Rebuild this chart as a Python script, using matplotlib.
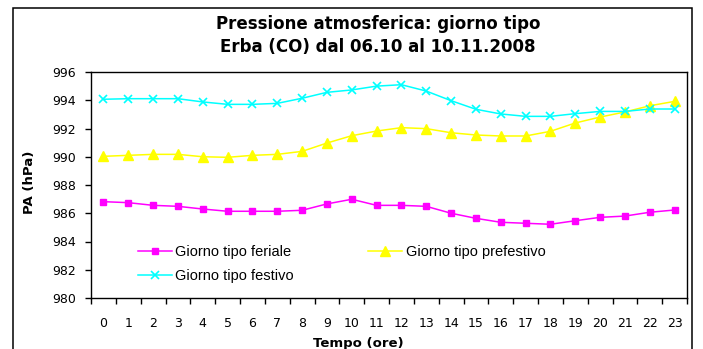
import matplotlib
matplotlib.use("Agg")
import matplotlib.pyplot as plt
from matplotlib.patches import Rectangle

hours = list(range(24))
feriale = [986.82, 986.75, 986.56, 986.49, 986.30, 986.14, 986.14, 986.14, 986.21, 986.66,
           986.99, 986.56, 986.56, 986.49, 986.00, 985.64, 985.36, 985.29, 985.22, 985.47,
           985.71, 985.80, 986.07, 986.23]
prefestivo = [990.03, 990.10, 990.17, 990.17, 990.00, 989.96, 990.10, 990.17, 990.38, 990.97,
              991.49, 991.82, 992.06, 991.99, 991.70, 991.54, 991.47, 991.47, 991.80, 992.39,
              992.81, 993.17, 993.61, 993.92]
festivo = [994.07, 994.11, 994.11, 994.11, 993.88, 993.71, 993.71, 993.78, 994.14, 994.56,
           994.73, 995.00, 995.10, 994.65, 993.97, 993.36, 993.03, 992.86, 992.86, 993.05,
           993.21, 993.21, 993.38, 993.38]
yticks = [980, 982, 984, 986, 988, 990, 992, 994, 996]

W, H = 703, 349
fig = plt.figure(figsize=(W / 100, H / 100), dpi=100)
fig.patch.set_facecolor("white")

# outer chart border
fig.patches.append(Rectangle((13 / W, -0.05), (692 - 13) / W, 1.05 - 8 / H,
                             transform=fig.transFigure, fill=False,
                             edgecolor="black", lw=1.1))

ax = fig.add_axes([91 / W, 1 - 298 / H, (687 - 91) / W, (298 - 72) / H])
l1, = ax.plot(hours, feriale, color="#FF00FF", marker="s", markersize=5, lw=1.1,
              label="Giorno tipo feriale")
l2, = ax.plot(hours, prefestivo, color="#FFFF00", marker="^", markersize=6.5, lw=1.1,
              label="Giorno tipo prefestivo")
l3, = ax.plot(hours, festivo, color="#00FFFF", marker="x", markersize=6, mew=1.2, lw=1.1,
              label="Giorno tipo festivo")

ax.set_xlim(-0.5, 23.5)
ax.set_ylim(980, 996)
ax.set_yticks(yticks)
ax.set_yticklabels([str(v) for v in yticks], fontsize=9, family="DejaVu Sans")
ax.set_xticks(hours)
ax.set_xticklabels([str(h) for h in hours], fontsize=9, family="DejaVu Sans")
ax.set_xticks([h - 0.5 for h in hours] + [23.5], minor=True)
ax.tick_params(axis="x", which="major", length=0, pad=14)
ax.tick_params(axis="x", which="minor", length=4, width=1, direction="out")
ax.tick_params(axis="y", which="major", length=4, width=1, direction="out", pad=7)
for s in ax.spines.values():
    s.set_linewidth(1)
    s.set_color("black")

fig.legend(handles=[l1, l3, l2], ncol=2, frameon=False, loc="upper left",
           bbox_to_anchor=(138 / W, 1 - 245 / H), borderpad=0, borderaxespad=0,
           handlelength=2.3, handletextpad=0.27, columnspacing=5.1, labelspacing=0.7,
           prop={"family": "Liberation Sans", "size": 10.5})

fig.text(378 / W, 1 - 29 / H, "Pressione atmosferica: giorno tipo", ha="center",
         va="baseline", fontsize=12, fontweight="bold", family="DejaVu Sans")
fig.text(378 / W, 1 - 52 / H, "Erba (CO) dal 06.10 al 10.11.2008", ha="center",
         va="baseline", fontsize=12, fontweight="bold", family="DejaVu Sans")
fig.text(29 / W, 1 - 182 / H, "PA (hPa)", rotation=90, ha="center", va="center",
         fontsize=9.5, fontweight="bold", family="DejaVu Sans")
fig.text(358 / W, 1 - 343 / H, "Tempo (ore)", ha="center", va="center",
         fontsize=9.5, fontweight="bold", family="DejaVu Sans")

fig.savefig("out.png", dpi=100)
